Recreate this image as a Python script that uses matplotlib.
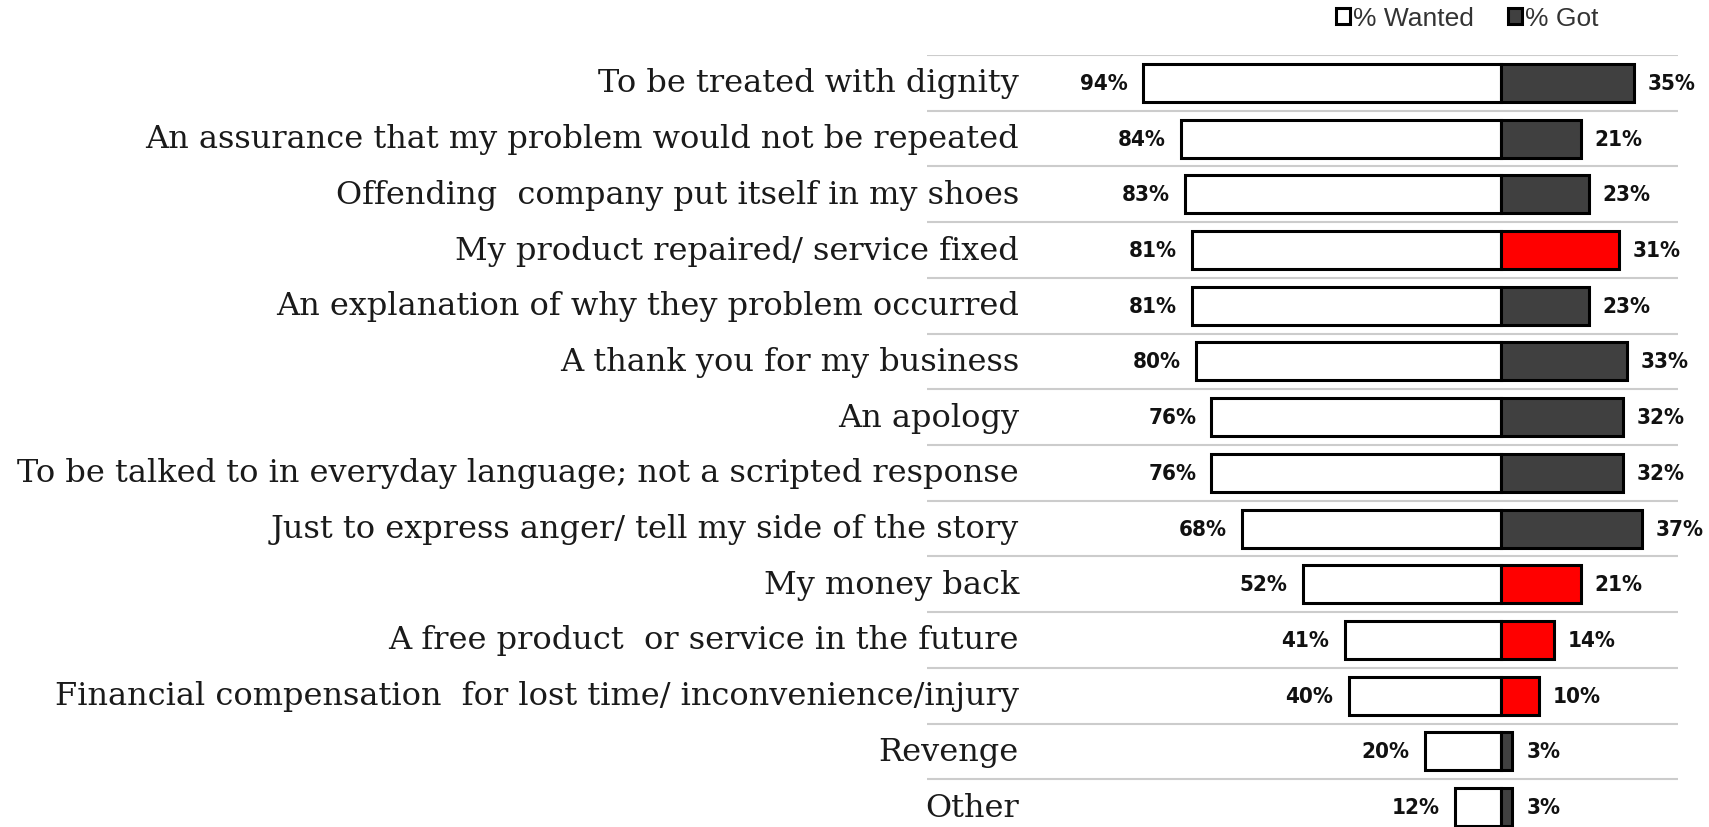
import matplotlib.pyplot as plt
from matplotlib.patches import Patch

labels = [
    "To be treated with dignity",
    "An assurance that my problem would not be repeated",
    "Offending  company put itself in my shoes",
    "My product repaired/ service fixed",
    "An explanation of why they problem occurred",
    "A thank you for my business",
    "An apology",
    "To be talked to in everyday language; not a scripted response",
    "Just to express anger/ tell my side of the story",
    "My money back",
    "A free product  or service in the future",
    "Financial compensation  for lost time/ inconvenience/injury",
    "Revenge",
    "Other",
]
wanted = [94, 84, 83, 81, 81, 80, 76, 76, 68, 52, 41, 40, 20, 12]
got = [35, 21, 23, 31, 23, 33, 32, 32, 37, 21, 14, 10, 3, 3]
highlight = [False, False, False, True, False, False, False, False, False,
             True, True, True, False, False]

DARK = "#404040"
RED = "#ff0000"

fig = plt.figure(figsize=(17.09, 8.28), dpi=100)
ax = fig.add_axes([927 / 1709, -8 / 828, 751 / 1709, 780 / 828])

y = list(range(len(labels)))
got_colors = [RED if h else DARK for h in highlight]

ax.barh(y, [-w for w in wanted], height=0.68, color="white",
        edgecolor="black", linewidth=2.2)
ax.barh(y, got, height=0.68, color=got_colors,
        edgecolor="black", linewidth=2.2)

for i in y:
    ax.annotate(f"{wanted[i]}%", (-wanted[i], i), xytext=(-11, 0),
                textcoords="offset points", ha="right", va="center",
                fontsize=16, fontweight="bold", fontstretch="condensed",
                family="DejaVu Sans", color="#111111")
    ax.annotate(f"{got[i]}%", (got[i], i), xytext=(10, 0),
                textcoords="offset points", ha="left", va="center",
                fontsize=16, fontweight="bold", fontstretch="condensed",
                family="DejaVu Sans", color="#111111")
    ax.text(0.1225, i, labels[i], transform=ax.get_yaxis_transform(),
            ha="right", va="center", fontsize=23, family="DejaVu Serif",
            color="#1a1a1a")

for b in range(len(labels)):
    ax.axhline(b - 0.5, color="#cccccc", linewidth=1.5, zorder=0)

ax.set_xlim(-150.7, 46.5)
ax.set_ylim(len(labels) - 0.5, -0.5)
ax.axis("off")

handles = [Patch(facecolor="white", edgecolor="black", linewidth=2.2),
           Patch(facecolor=DARK, edgecolor="black", linewidth=2.2)]
fig.legend(handles, ["% Wanted", "% Got"], loc="center",
           bbox_to_anchor=(1467 / 1709, 1 - 19 / 828), ncol=2, frameon=False,
           handlelength=0.55, handleheight=0.55, handletextpad=0.1,
           columnspacing=1.3, labelcolor="#333333",
           prop={"family": "Liberation Sans", "size": 19})

fig.savefig("out.png", dpi=100)
